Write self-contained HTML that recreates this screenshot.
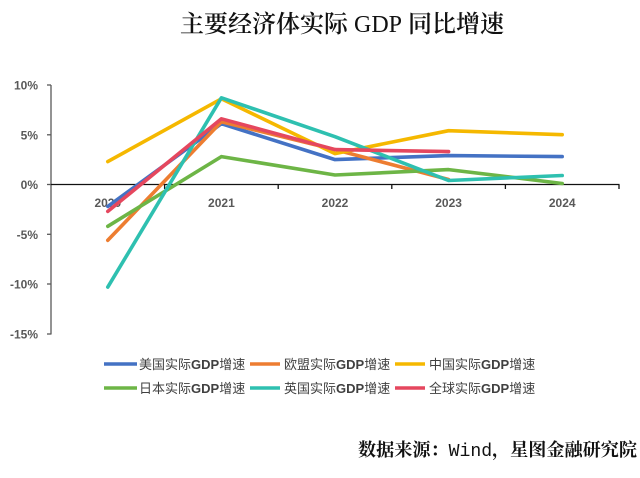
<!DOCTYPE html>
<html><head><meta charset="utf-8">
<style>
html,body{margin:0;padding:0;background:#fff;}
body{width:640px;height:478px;overflow:hidden;}
svg{display:block;}
.ax{font-family:"Liberation Sans",sans-serif;font-weight:bold;font-size:12px;fill:#595959;}
.lg{font-family:"Liberation Sans","Noto Sans CJK SC",sans-serif;font-size:13px;fill:#404040;}
</style></head>
<body>
<svg width="640" height="478" viewBox="0 0 640 478" xmlns="http://www.w3.org/2000/svg">
<text x="342" y="32" text-anchor="middle" font-family="'Liberation Serif','Noto Serif CJK SC',serif" font-size="24" font-weight="600" fill="#111">主要经济体实际 <tspan font-weight="normal">GDP</tspan> 同比增速</text>

<!-- y axis -->
<line x1="51" y1="85" x2="51" y2="334.5" stroke="#595959" stroke-width="1.3"/>
<g stroke="#595959" stroke-width="1.3">
<line x1="47" y1="85" x2="51" y2="85"/>
<line x1="47" y1="134.8" x2="51" y2="134.8"/>
<line x1="47" y1="184.5" x2="51" y2="184.5"/>
<line x1="47" y1="234.3" x2="51" y2="234.3"/>
<line x1="47" y1="284" x2="51" y2="284"/>
<line x1="47" y1="334" x2="51" y2="334"/>
</g>
<g class="ax" text-anchor="end">
<text x="38" y="89.5">10%</text>
<text x="38" y="139.3">5%</text>
<text x="38" y="189">0%</text>
<text x="38" y="238.8">-5%</text>
<text x="38" y="288.5">-10%</text>
<text x="38" y="338.5">-15%</text>
</g>
<!-- x axis -->
<line x1="51" y1="184.5" x2="619.5" y2="184.5" stroke="#111" stroke-width="1.3"/>
<g stroke="#111" stroke-width="1.3">
<line x1="164.6" y1="184.5" x2="164.6" y2="189"/>
<line x1="278.2" y1="184.5" x2="278.2" y2="189"/>
<line x1="391.8" y1="184.5" x2="391.8" y2="189"/>
<line x1="505.4" y1="184.5" x2="505.4" y2="189"/>
<line x1="619" y1="184.5" x2="619" y2="189"/>
</g>
<g class="ax" text-anchor="middle">
<text x="107.8" y="207">2020</text>
<text x="221.4" y="207">2021</text>
<text x="335" y="207">2022</text>
<text x="448.6" y="207">2023</text>
<text x="562.2" y="207">2024</text>
</g>

<g fill="none" stroke-width="3.6" stroke-linejoin="round" stroke-linecap="round">
<polyline stroke="#4472C4" points="107.8,206.4 221.4,123.7 335,159.6 448.6,155.6 562.2,156.6"/>
<polyline stroke="#ED7D31" points="107.8,240.3 221.4,121.8 335,149.6 448.6,179.5"/>
<polyline stroke="#F5B800" points="107.8,161.6 221.4,98.8 335,153.6 448.6,130.7 562.2,134.7"/>
<polyline stroke="#6DB546" points="107.8,226.3 221.4,156.6 335,175 448.6,169.6 562.2,183.5"/>
<polyline stroke="#2EC0B0" points="107.8,287.1 221.4,97.8 335,136.7 448.6,180.5 562.2,175.5"/>
<polyline stroke="#E5475E" points="107.8,211.4 221.4,118.8 335,149.6 448.6,151.6"/>
</g>

<!-- legend -->
<g stroke-width="3.5">
<line x1="104" y1="364" x2="137" y2="364" stroke="#4472C4"/>
<line x1="250" y1="364" x2="280" y2="364" stroke="#ED7D31"/>
<line x1="395" y1="364" x2="425" y2="364" stroke="#F5B800"/>
<line x1="104" y1="388" x2="137" y2="388" stroke="#6DB546"/>
<line x1="250" y1="388" x2="280" y2="388" stroke="#2EC0B0"/>
<line x1="395" y1="388" x2="425" y2="388" stroke="#E5475E"/>
</g>
<g class="lg">
<text x="139" y="369">美国实际<tspan font-weight="bold">GDP</tspan>增速</text>
<text x="284" y="369">欧盟实际<tspan font-weight="bold">GDP</tspan>增速</text>
<text x="429" y="369">中国实际<tspan font-weight="bold">GDP</tspan>增速</text>
<text x="139" y="393">日本实际<tspan font-weight="bold">GDP</tspan>增速</text>
<text x="284" y="393">英国实际<tspan font-weight="bold">GDP</tspan>增速</text>
<text x="429" y="393">全球实际<tspan font-weight="bold">GDP</tspan>增速</text>
</g>

<text x="358" y="456" font-family="'Liberation Mono','Noto Serif CJK SC',serif" font-size="18" font-weight="bold" fill="#111" textLength="279" lengthAdjust="spacingAndGlyphs">数据来源：<tspan font-weight="normal">Wind</tspan>，星图金融研究院</text>
</svg>
</body></html>
